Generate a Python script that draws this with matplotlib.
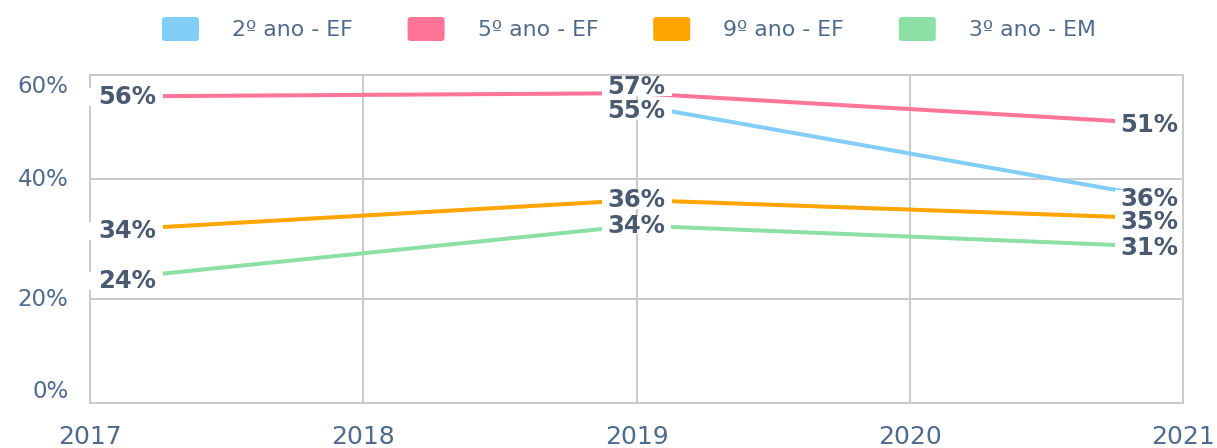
import numpy as np
import matplotlib
matplotlib.use("Agg")
import matplotlib.pyplot as plt
from matplotlib.patches import FancyBboxPatch, Rectangle
from matplotlib.ticker import NullLocator
from matplotlib.transforms import IdentityTransform

# ---------------- data ----------------
years = [2017, 2018, 2019, 2020, 2021]
point_years = [2017, 2019, 2021]
series_names = ["2º ano - EF", "5º ano - EF", "9º ano - EF", "3º ano - EM"]

values_2ef = [np.nan, 54.2, 36.2]
values_5ef = [55.85, 56.5, 50.4]
values_9ef = [31.3, 36.5, 33.3]
values_3em = [23.0, 32.25, 28.55]

labels_2ef = [None, "55%", "36%"]
labels_5ef = ["56%", "57%", "51%"]
labels_9ef = ["34%", "36%", "35%"]
labels_3em = ["24%", "34%", "31%"]

y_ticks = [0, 20, 40, 60]
y_tick_labels = ["0%", "20%", "40%", "60%"]

colors = ["#83CDFA", "#FF7598", "#FFA500", "#8CE0A5"]
all_values = [values_2ef, values_5ef, values_9ef, values_3em]
all_labels = [labels_2ef, labels_5ef, labels_9ef, labels_3em]

TICK_COLOR = "#4E6A8C"
LABEL_COLOR = "#4A5A70"
GRID_COLOR = "#CACACA"
FONT = "DejaVu Sans"

W, H, DPI = 1217, 448, 100
fig = plt.figure(figsize=(W / DPI, H / DPI), dpi=DPI)
fig.patch.set_facecolor("white")

ax = fig.add_axes([90 / W, 45 / H, (1183 - 90) / W, (403 - 75) / H])

# piecewise-linear y scale (gridlines are not evenly spaced in the original)
KN = np.array([-1000.0, 0.0, 20.0, 40.0, 60.0, 1060.0])
_p = np.array([0, 104, 224, 328]) / 328 * 60
_s = _p[1] / 20
KP = np.array([-1000 * _s, _p[0], _p[1], _p[2], _p[3], 60 + 1000 * _s])


def fwd(v):
    return np.interp(np.asarray(v, float), KN, KP)


def inv(u):
    return np.interp(np.asarray(u, float), KP, KN)


ax.set_yscale("function", functions=(fwd, inv))
ax.set_xlim(2017, 2021)
ax.set_ylim(0, 60)
ax.set_xticks(years)
ax.set_xticklabels([str(y) for y in years])
ax.set_yticks(y_ticks)
ax.set_yticklabels(y_tick_labels)
ax.yaxis.set_minor_locator(NullLocator())
ax.xaxis.set_minor_locator(NullLocator())

ax.grid(True, color=GRID_COLOR, lw=1.4)
ax.set_axisbelow(True)
for sp in ax.spines.values():
    sp.set_color(GRID_COLOR)
    sp.set_linewidth(1.4)
ax.spines["right"].set_zorder(4.5)

ax.tick_params(axis="x", length=0, pad=15.5, labelsize=18, labelcolor=TICK_COLOR)
ax.tick_params(axis="y", length=0, pad=15.5, labelsize=16.5, labelcolor=TICK_COLOR)
for lbl in ax.get_xticklabels() + ax.get_yticklabels():
    lbl.set_family(FONT)
for lbl, va in zip(ax.get_yticklabels(), ["bottom", "center", "center", "top"]):
    lbl.set_va(va)

# lines
for vals, col in zip(all_values, colors):
    ax.plot(point_years, vals, color=col, lw=2.9, solid_capstyle="butt", zorder=2)

# data labels with simple vertical collision avoidance
GAP = 23.5
x_offsets_px = {0: 37, 1: 0, 2: -34}
pad_left = {0: 11, 1: 6, 2: 5}
pad_right = {0: 7, 1: 6, 2: 12}


def spread(ts, gap):
    pos = list(ts)
    for _ in range(100):
        moved = False
        for i in range(len(pos) - 1):
            d = pos[i + 1] - pos[i]
            if d < gap - 1e-6:
                sh = (gap - d) / 2
                pos[i] -= sh
                pos[i + 1] += sh
                moved = True
        if not moved:
            break
    return pos


texts = []
for idx, yr in enumerate(point_years):
    items = []
    for s, (vals, labs) in enumerate(zip(all_values, all_labels)):
        if labs[idx] is None or np.isnan(vals[idx]):
            continue
        yd = ax.transData.transform((yr, vals[idx]))[1]
        items.append((H - yd, s))
    items.sort()
    new_t = spread([t for t, _ in items], GAP)
    for (t0, s), t1 in zip(items, new_t):
        dy_pt = -(t1 - t0) * 72 / DPI
        dx_pt = x_offsets_px[idx] * 72 / DPI
        t = ax.annotate(all_labels[s][idx], xy=(yr, all_values[s][idx]),
                        xytext=(dx_pt, dy_pt), textcoords="offset points",
                        ha="center", va="center", fontsize=17.5, fontweight="bold",
                        color=LABEL_COLOR, family=FONT, zorder=5,
                        annotation_clip=False)
        texts.append((t, idx))

# white backgrounds behind the data labels (drawn below all label texts)
fig.canvas.draw()
renderer = fig.canvas.get_renderer()
for t, idx in texts:
    bb = t.get_window_extent(renderer)
    shrink = 3
    ax.add_artist(Rectangle((bb.x0 - pad_left[idx], bb.y0 + shrink),
                            bb.width + pad_left[idx] + pad_right[idx],
                            bb.height - 2 * shrink,
                            transform=IdentityTransform(), fc="white", ec="none",
                            zorder=4, clip_on=False))

# legend (drawn in pixel coordinates on an overlay axes)
lax = fig.add_axes([0, 0, 1, 1])
lax.set_xlim(0, W)
lax.set_ylim(H, 0)
lax.axis("off")
for i, (name, col) in enumerate(zip(series_names, colors)):
    x0 = 162 + i * 245.6
    lax.add_patch(FancyBboxPatch((x0, 17), 37, 24,
                                 boxstyle="round,pad=0,rounding_size=3",
                                 fc=col, ec="none"))
    lax.text(x0 + 70, 29.5, name, va="center", ha="left", fontsize=15.8,
             color=TICK_COLOR, family=FONT)

fig.savefig("out.png", dpi=DPI, facecolor="white")
